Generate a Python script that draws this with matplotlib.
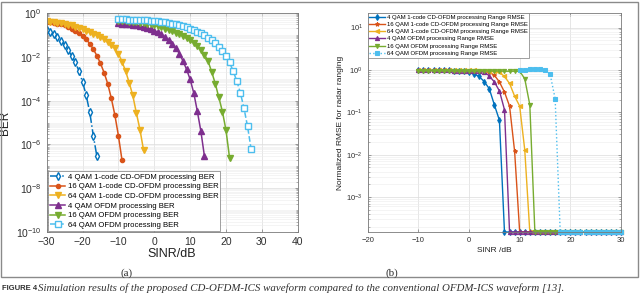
import matplotlib
matplotlib.use("Agg")
import matplotlib.pyplot as plt
import matplotlib.ticker as mticker
from matplotlib.patches import Rectangle
import numpy as np

plt.rcParams['font.family'] = ['Liberation Sans', 'DejaVu Sans']

# ---------------- data: (a) BER vs SINR, log10(BER) ----------------
sinr_4qam_cd = np.arange(-30, -15)
log_ber_4qam_cd = [-0.77, -0.86, -0.97, -1.10, -1.26, -1.45, -1.70, -1.96, -2.25,
                   -2.65, -3.15, -3.75, -4.53, -5.60, -6.55]
sinr_16qam_cd = np.arange(-30, -8)
log_ber_16qam_cd = [-0.40, -0.42, -0.45, -0.48, -0.52, -0.57, -0.63, -0.71, -0.80,
                    -0.91, -1.05, -1.20, -1.40, -1.65, -1.95, -2.30, -2.72, -3.22,
                    -3.88, -4.65, -5.60, -6.72]
sinr_64qam_cd = np.arange(-30, -2)
log_ber_64qam_cd = [-0.38, -0.40, -0.42, -0.44, -0.47, -0.50, -0.53, -0.57, -0.62,
                    -0.67, -0.73, -0.80, -0.87, -0.94, -1.02, -1.10, -1.20, -1.32,
                    -1.45, -1.62, -1.85, -2.22, -2.65, -3.18, -3.76, -4.56, -5.32, -6.25]
sinr_4qam_ofdm = np.arange(-10, 15)
log_ber_4qam_ofdm = [-0.46, -0.48, -0.50, -0.52, -0.54, -0.57, -0.60, -0.64, -0.69,
                     -0.74, -0.80, -0.88, -0.98, -1.10, -1.25, -1.42, -1.60, -1.85,
                     -2.19, -2.57, -3.03, -3.64, -4.48, -5.40, -6.55]
sinr_16qam_ofdm = np.arange(-10, 22)
log_ber_16qam_ofdm = [-0.36, -0.37, -0.38, -0.39, -0.40, -0.42, -0.44, -0.46, -0.49,
                      -0.52, -0.56, -0.60, -0.65, -0.71, -0.77, -0.84, -0.91, -0.98,
                      -1.06, -1.15, -1.25, -1.36, -1.50, -1.68, -1.90, -2.20, -2.68,
                      -3.22, -3.85, -4.50, -5.35, -6.62]
sinr_64qam_ofdm = np.arange(-10, 28)
log_ber_64qam_ofdm = [-0.28, -0.29, -0.29, -0.30, -0.30, -0.31, -0.32, -0.33, -0.34,
                      -0.35, -0.36, -0.38, -0.40, -0.42, -0.45, -0.48, -0.52, -0.56,
                      -0.61, -0.66, -0.72, -0.78, -0.85, -0.93, -1.02, -1.13, -1.25,
                      -1.38, -1.55, -1.75, -1.98, -2.26, -2.65, -3.10, -3.64, -4.33,
                      -5.17, -6.20]

ber_labels = ['4 QAM 1-code CD-OFDM processing BER',
              '16 QAM 1-code CD-OFDM processing BER',
              '64 QAM 1-code CD-OFDM processing BER',
              '4 QAM OFDM processing BER',
              '16 QAM OFDM processing BER',
              '64 QAM OFDM processing BER']

# ---------------- data: (b) normalized range RMSE vs SINR ----------------
RMSE_FLOOR = 1.5e-4   # zero error drawn on the bottom edge
sinr_rmse = np.arange(-10, 31)
rmse_4qam_cd = [0.98, 0.99, 0.97, 0.98, 0.97, 0.98, 0.97, 0.96, 0.95, 0.94,
                0.90, 0.80, 0.70, 0.53, 0.36, 0.15, 0.065] + [RMSE_FLOOR] * 24
rmse_16qam_cd = [0.97, 0.98, 0.97, 0.98, 0.97, 0.97, 0.97, 0.96, 0.96, 0.96,
                 0.96, 0.95, 0.93, 0.92, 0.88, 0.75, 0.52, 0.30, 0.14, 0.012] + [RMSE_FLOOR] * 21
rmse_64qam_cd = [0.97, 0.98, 0.97, 0.97, 0.98, 0.97, 0.97, 0.97, 0.97, 0.97,
                 0.97, 0.97, 0.96, 0.96, 0.95, 0.94, 0.88, 0.70, 0.48, 0.24, 0.14,
                 0.013] + [RMSE_FLOOR] * 19
rmse_4qam_ofdm = [0.97, 0.98, 0.97, 0.97, 0.97, 0.97, 0.97, 0.96, 0.96, 0.95,
                  0.94, 0.93, 0.92, 0.90, 0.72, 0.52, 0.32, 0.115] + [RMSE_FLOOR] * 23
rmse_16qam_ofdm = [0.95, 0.96, 0.95, 0.95, 0.95, 0.95, 0.95, 0.94, 0.95, 0.94,
                   0.94, 0.94, 0.94, 0.94, 0.94, 0.94, 0.94, 0.93, 0.93, 0.93,
                   0.93, 0.62, 0.15] + [RMSE_FLOOR] * 18
sinr_rmse_64qam_ofdm = np.arange(10, 31)
rmse_64qam_ofdm = [0.98, 0.97, 1.03, 1.05, 1.03, 1.00, 0.80, 0.21] + [RMSE_FLOOR] * 13

rmse_labels = ['4 QAM 1-code CD-OFDM processing Range RMSE',
               '16 QAM 1-code CD-OFDM processing Range RMSE',
               '64 QAM 1-code CD-OFDM processing Range RMSE',
               '4 QAM OFDM processing Range RMSE',
               '16 QAM OFDM processing Range RMSE',
               '64 QAM OFDM processing Range RMSE']

# matlab default colour order
colors = ['#0072BD', '#D95319', '#EDB120', '#7E2F8E', '#77AC30', '#4DBEEE']

fig = plt.figure(figsize=(6.4, 2.95), dpi=100)

# outer frame of the scanned figure
fig.patches.append(Rectangle((1 / 640, 1 - 277 / 295), 637 / 640, 275 / 295,
                             transform=fig.transFigure, fill=False,
                             edgecolor='#8a8a8a', linewidth=1.0))


def style_axes(ax, tick_size):
    for s in ax.spines.values():
        s.set_color('#7a7a7a')
        s.set_linewidth(0.6)
    ax.tick_params(which='both', direction='in', top=True, right=True,
                   colors='#7a7a7a', labelcolor='#303030', labelsize=tick_size)
    ax.tick_params(which='major', length=2.5, width=0.5)
    ax.tick_params(which='minor', length=1.3, width=0.4)
    ax.grid(True, which='major', color='#dcdcdc', linewidth=0.5)
    ax.yaxis.grid(True, which='minor', color='#ececec', linewidth=0.4)
    ax.set_axisbelow(True)


# ---------------- (a) ----------------
ax1 = fig.add_axes([46.7 / 640, 1 - 232 / 295, 251 / 640, 219 / 295])
ber_series = [(sinr_4qam_cd, log_ber_4qam_cd, 'd', '-.', 'white'),
              (sinr_16qam_cd, log_ber_16qam_cd, 'o', '-', None),
              (sinr_64qam_cd, log_ber_64qam_cd, 'v', '-', None),
              (sinr_4qam_ofdm, log_ber_4qam_ofdm, '^', '-', None),
              (sinr_16qam_ofdm, log_ber_16qam_ofdm, 'v', '-', None),
              (sinr_64qam_ofdm, log_ber_64qam_ofdm, 's', '--', 'white')]
for (x, lb, mk, ls, mfc), c, lab in zip(ber_series, colors, ber_labels):
    ms = 3.0 if mk == 'o' else 4.0
    ax1.semilogy(x, 10.0 ** np.array(lb), linestyle=ls, marker=mk, color=c,
                 markersize=ms, markeredgewidth=1.0, linewidth=1.1,
                 markerfacecolor=mfc if mfc else c, label=lab)

ax1.set_xlim(-30, 40)
ax1.set_ylim(1e-10, 1)
ax1.set_xticks(np.arange(-30, 41, 10))
ax1.yaxis.set_major_locator(mticker.LogLocator(base=100.0, numticks=10))
ax1.yaxis.set_minor_locator(mticker.LogLocator(base=10.0, subs=np.arange(1, 10), numticks=30))
ax1.yaxis.set_minor_formatter(mticker.NullFormatter())
style_axes(ax1, 7.5)
ax1.set_xlabel('SINR/dB', fontsize=9, color='#202020', labelpad=1)
ax1.set_ylabel('BER', fontsize=8.5, color='#202020', labelpad=4)
leg1 = ax1.legend(loc='lower left', fontsize=5.6, borderaxespad=0.15,
                  handlelength=2.0, handletextpad=0.3, labelspacing=0.28,
                  borderpad=0.25, fancybox=False, framealpha=1)
leg1.get_frame().set_edgecolor('#7a7a7a')
leg1.get_frame().set_linewidth(0.5)

# ---------------- (b) ----------------
ax2 = fig.add_axes([367.7 / 640, 1 - 232 / 295, 253.3 / 640, 219 / 295])
rmse_series = [(sinr_rmse, rmse_4qam_cd, 'd', '-'),
               (sinr_rmse, rmse_16qam_cd, '*', '-'),
               (sinr_rmse, rmse_64qam_cd, '<', '-'),
               (sinr_rmse, rmse_4qam_ofdm, '^', '-'),
               (sinr_rmse, rmse_16qam_ofdm, 'v', '-'),
               (sinr_rmse_64qam_ofdm, rmse_64qam_ofdm, 's', ':')]
for (x, y, mk, ls), c, lab in zip(rmse_series, colors, rmse_labels):
    ax2.semilogy(x, y, linestyle=ls, marker=mk, color=c, markersize=3.0,
                 markeredgewidth=0.8, linewidth=1.0, label=lab, clip_on=False)

ax2.set_xlim(-20, 30)
ax2.set_ylim(RMSE_FLOOR, 22)
ax2.set_xticks(np.arange(-20, 31, 10))
ax2.yaxis.set_major_locator(mticker.LogLocator(base=10.0, numticks=10))
ax2.yaxis.set_minor_locator(mticker.LogLocator(base=10.0, subs=np.arange(2, 10), numticks=30))
ax2.yaxis.set_minor_formatter(mticker.NullFormatter())
style_axes(ax2, 5.5)
ax2.set_xlabel('SINR /dB', fontsize=6, color='#202020', labelpad=2)
ax2.set_ylabel('Normalized RMSE for radar ranging', fontsize=6, color='#202020', labelpad=2)
leg2 = ax2.legend(loc='upper left', fontsize=4.3, borderaxespad=0.0,
                  handlelength=2.6, handletextpad=0.3, labelspacing=0.35,
                  borderpad=0.25, fancybox=False, framealpha=1)
leg2.get_frame().set_edgecolor('#7a7a7a')
leg2.get_frame().set_linewidth(0.5)

# sub-figure tags and caption
fig.text(127 / 640, 1 - 273 / 295, '(a)', family='Liberation Serif', fontsize=8,
         color='#303030', ha='center', va='center')
fig.text(392 / 640, 1 - 273 / 295, '(b)', family='Liberation Serif', fontsize=8,
         color='#303030', ha='center', va='center')
fig.text(2 / 640, 1 - 285 / 295, 'FIGURE 4', family='Liberation Sans', fontsize=5.5,
         weight='bold', color='#303030', ha='left', va='top')
fig.text(38 / 640, 1 - 283 / 295,
         'Simulation results of the proposed CD-OFDM-ICS waveform compared to the conventional OFDM-ICS waveform [13].',
         family='Liberation Serif', style='italic', fontsize=7.8, color='#303030',
         ha='left', va='top')

fig.savefig('out.png', dpi=100)
